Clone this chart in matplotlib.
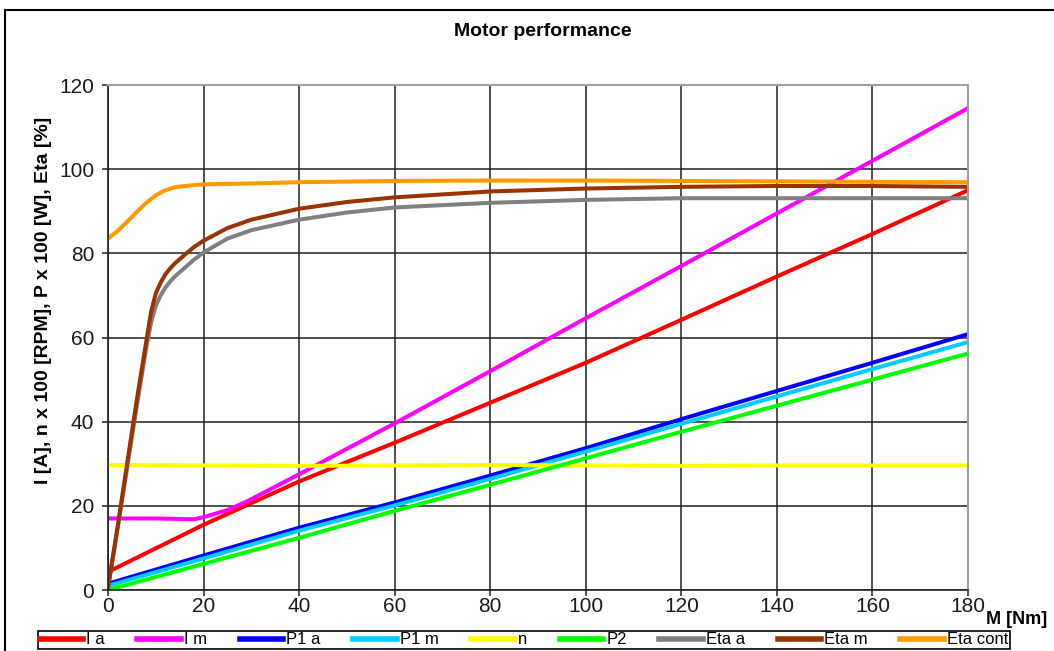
import numpy as np
import matplotlib.pyplot as plt
from matplotlib.patches import Rectangle

# torque values [Nm] and readings
m_lin = [0, 20, 40, 60, 80, 100, 120, 140, 160, 180]
i_a = [4.3, 15.5, 25.8, 35.0, 44.5, 54.0, 64.2, 74.5, 84.6, 95.0]
p1_a = [1.5, 8.2, 14.8, 20.8, 27.2, 33.7, 40.6, 47.3, 54.0, 60.8]
p1_m = [1.0, 7.5, 14.1, 20.1, 26.4, 32.9, 39.5, 46.0, 52.5, 58.9]
p2 = [0.0, 6.2, 12.4, 18.8, 25.0, 31.3, 37.6, 43.8, 50.0, 56.2]
n_rpm = [29.7, 29.6, 29.5, 29.6, 29.7, 29.6, 29.5, 29.6, 29.6, 29.6]

m_im = [0, 10, 18, 20, 25, 29, 40, 60, 80, 100, 120, 140, 160, 180]
i_m = [17.0, 17.0, 16.8, 17.3, 19.0, 21.0, 27.5, 39.6, 52.0, 64.6, 77.0, 89.5, 102.0, 114.5]

m_eta = [0, 2, 4, 6, 8, 9, 10, 11, 12, 13, 14, 16, 18, 20, 25, 30, 40, 50, 60, 80, 100, 120, 140, 160, 180]
eta_a = [0.5, 14.5, 29.0, 43.5, 57.5, 63.5, 67.5, 70.0, 71.8, 73.3, 74.5, 76.5, 78.5, 80.2, 83.5,
         85.5, 88.0, 89.7, 90.9, 92.0, 92.7, 93.1, 93.1, 93.1, 93.1]
eta_m = [0.5, 15.0, 30.0, 45.0, 59.0, 66.0, 70.5, 73.0, 75.0, 76.4, 77.6, 79.6, 81.5, 83.0, 86.0,
         88.0, 90.6, 92.2, 93.3, 94.7, 95.4, 95.8, 96.0, 96.0, 95.8]

m_cont = [0, 2, 4, 6, 8, 10, 12, 14, 16, 20, 30, 40, 60, 80, 100, 120, 140, 160, 180]
eta_cont = [83.5, 85.3, 87.5, 89.8, 92.0, 93.8, 95.0, 95.7, 96.0, 96.4, 96.6, 96.9, 97.2,
            97.3, 97.3, 97.2, 97.1, 97.0, 96.9]

narrow = ['Liberation Sans Narrow', 'Liberation Sans', 'DejaVu Sans']
bold = ['Liberation Sans', 'DejaVu Sans']

fig = plt.figure(figsize=(10.54, 6.51), dpi=100)
ax = fig.add_axes([108 / 1054, 1 - 590 / 651, 860 / 1054, 505 / 651])

lw = 2.9
ax.plot(m_lin, i_a, color='#ff0000', lw=lw, label='I a')
ax.plot(m_im, i_m, color='#ff00ff', lw=lw, label='I m')
ax.plot(m_lin, p1_a, color='#0000ff', lw=lw, label='P1 a')
ax.plot(m_lin, p1_m, color='#00ccff', lw=lw, label='P1 m')
ax.plot(m_lin, n_rpm, color='#ffff00', lw=lw, label='n')
ax.plot(m_lin, p2, color='#00ff00', lw=lw, label='P2')
ax.plot(m_eta, eta_a, color='#808080', lw=lw, label='Eta a')
ax.plot(m_eta, eta_m, color='#993300', lw=lw, label='Eta m')
ax.plot(m_cont, eta_cont, color='#ff9900', lw=lw, label='Eta cont')

ax.set_xlim(0, 180)
ax.set_ylim(0, 120)
ax.set_xticks(np.arange(0, 181, 20))
ax.set_yticks(np.arange(0, 121, 20))
ax.grid(True, color='#202020', lw=1.1)
ax.set_axisbelow(True)
for side in ['top', 'right']:
    ax.spines[side].set_color('#a0a0a0')
    ax.spines[side].set_linewidth(1.5)
for side in ['left', 'bottom']:
    ax.spines[side].set_color('#202020')
    ax.spines[side].set_linewidth(1.2)
ax.tick_params(axis='both', direction='out', length=4, width=1.1, color='#202020')
ax.tick_params(axis='y', pad=6)
ax.tick_params(axis='x', pad=1)
for lab in ax.get_xticklabels() + ax.get_yticklabels():
    lab.set_family(narrow)
    lab.set_fontsize(15)
    lab.set_color('#1a1a1a')

fig.text(543 / 1054, 1 - 31 / 651, 'Motor performance', ha='center', va='center',
         family=narrow, fontsize=14, fontweight='bold')
fig.text(44 / 1054, 1 - 300 / 651, 'I [A], n x 100 [RPM], P x 100 [W], Eta [%]',
         rotation=90, ha='center', va='center', family=bold, fontsize=14,
         fontweight='bold')
fig.text(986 / 1054, 1 - 619 / 651, 'M [Nm]', ha='left', va='center',
         family=bold, fontsize=13, fontweight='bold')

leg = fig.legend(loc='center', bbox_to_anchor=(524 / 1054, 1 - 640 / 651), ncol=9,
                 prop={'family': narrow, 'size': 12}, handlelength=2.6,
                 handletextpad=0.2, columnspacing=1.95, borderpad=0.1,
                 fancybox=False, edgecolor='#000000', framealpha=1)
leg.get_frame().set_linewidth(1.2)
for line in leg.get_lines():
    line.set_linewidth(4)

# outer chart border (cut off at right and bottom)
fig.patches.append(Rectangle((5 / 1054, -0.2), 1.2, 1.2 - 10 / 651, transform=fig.transFigure,
                             fill=False, edgecolor='#000000', lw=1.5))

fig.savefig('out.png', dpi=100)
